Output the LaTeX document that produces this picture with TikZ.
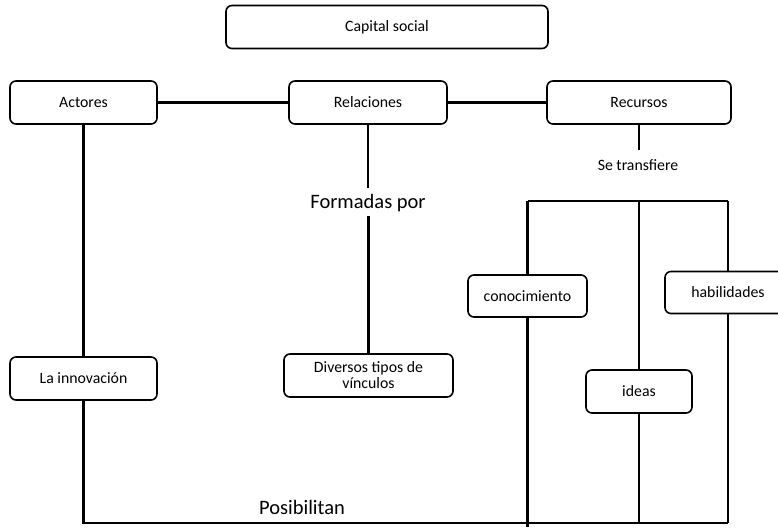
\documentclass[tikz,border=0pt]{standalone}
\usepackage{fontspec}
\setmainfont{Carlito}
\usetikzlibrary{positioning}

\begin{document}
\begin{tikzpicture}[x=1pt,y=-1pt,
    box/.style={draw,line width=1.6pt,rounded corners=6pt,minimum height=43pt,
      align=center,inner sep=0pt,font=\fontsize{15.8pt}{16pt}\selectfont},
    conn/.style={line width=2.8pt},
    biglbl/.style={inner sep=2pt,font=\fontsize{20.5pt}{22pt}\selectfont},
    smalllbl/.style={inner sep=2pt,font=\fontsize{15.8pt}{16pt}\selectfont}]
    \pgfmathsetmacro{\bottomline}{523}
    \pgfmathsetmacro{\bracketline}{201}
    \useasboundingbox (0,0) rectangle (778,529);
    % top row
    \node[box,minimum width=322pt] (capital) at (387,27) {Capital social};
    \node[box,minimum width=147pt] (actores) at (83.5,102.5) {Actores};
    \node[box,minimum width=158pt] (relaciones) at (368,102.5) {Relaciones};
    \node[box,minimum width=184pt] (recursos) at (639,102.5) {Recursos};
    % labels
    \node[biglbl] (formadas) at (368,203) {Formadas por};
    \node[smalllbl] (transfiere) at (638,165) {Se transfiere};
    \node[biglbl] (posibilitan) at (302,507) {Posibilitan};
    % lower boxes
    \node[box,minimum width=147pt] (innovacion) at (83.5,378.5) {La innovación};
    \node[box,minimum width=169pt] (vinculos) at (368.5,375.5) {Diversos tipos de\\vínculos};
    \node[box,minimum width=119pt,minimum height=42pt] (conocimiento) at (527.5,296) {conocimiento};
    \node[box,minimum width=106pt] (ideas) at (639,391.5) {ideas};
    \node[box,minimum width=126pt,minimum height=42pt] (habilidades) at (728,292.5) {habilidades};
    \coordinate (bl) at (conocimiento.north |- 0,\bracketline);
    \coordinate (br) at (habilidades.north |- 0,\bracketline);
    \coordinate (end) at (habilidades.south |- 0,\bottomline);
    % connectors
    \draw[conn] (actores) -- (relaciones);
    \draw[conn] (relaciones) -- (recursos);
    \draw[conn] (actores.south) -- (innovacion.north);
    \draw[conn] (innovacion.south) -- (innovacion.south |- end) -- (end);
    \draw[conn] (relaciones.south) -- ([yshift=4pt]relaciones.south |- formadas.north);
    \draw[conn] ([yshift=-2pt]vinculos.north |- formadas.south) -- (vinculos.north);
    \draw[conn] (recursos.south) -- ([yshift=7pt]recursos.south |- transfiere.north);
    \draw[conn] (bl) -- (br);
    \draw[conn] (bl) -- (conocimiento.north);
    \draw[conn] (conocimiento.south) -- ([yshift=-4pt]conocimiento.south |- end);
    \draw[conn] (ideas.north |- bl) -- (ideas.north);
    \draw[conn] (ideas.south) -- (ideas.south |- end);
    \draw[conn] (br) -- (habilidades.north);
    \draw[conn] (habilidades.south) -- (end);
\end{tikzpicture}
\end{document}
